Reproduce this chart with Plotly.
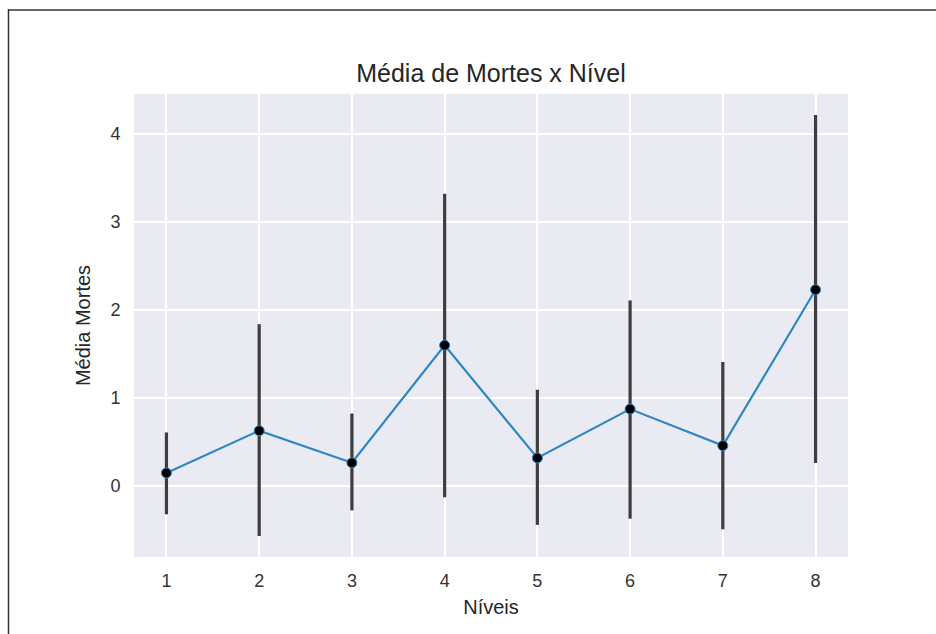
import plotly.graph_objects as go

# Mean deaths per level with confidence interval bounds
niveis = [1, 2, 3, 4, 5, 6, 7, 8]
media_mortes = [0.15, 0.63, 0.265, 1.60, 0.32, 0.875, 0.46, 2.23]
ic_superior = [0.61, 1.84, 0.825, 3.32, 1.095, 2.11, 1.41, 4.215]
ic_inferior = [-0.32, -0.566, -0.275, -0.125, -0.44, -0.37, -0.49, 0.264]
y_ticks = [0, 1, 2, 3, 4]

W, H = 936, 634
L, R, T, B = 134, 88, 94, 77
pw, ph = W - L - R, H - T - B

fig = go.Figure()

# vertical interval bars
for x, lo, hi in zip(niveis, ic_inferior, ic_superior):
    fig.add_trace(go.Scatter(
        x=[x, x], y=[lo, hi], mode="lines",
        line=dict(color="#3d3d3d", width=3.2),
        hoverinfo="skip", showlegend=False,
    ))

# mean line with markers
fig.add_trace(go.Scatter(
    x=niveis, y=media_mortes, mode="lines+markers",
    line=dict(color="#2f86c4", width=2.2),
    marker=dict(color="black", size=10, line=dict(color="#2f86c4", width=1)),
    showlegend=False,
))

text_color = "#262626"
font_family = "Liberation Sans, Arial, sans-serif"

# thin frame lines along the top and left edge of the page
def px_x(px):
    return (px - L) / pw

def px_y(py):
    return (H - B - py) / ph

shapes = [
    dict(type="line", xref="paper", yref="paper",
         x0=px_x(8), x1=px_x(W + 2), y0=px_y(10), y1=px_y(10),
         line=dict(color="#666666", width=2)),
    dict(type="line", xref="paper", yref="paper",
         x0=px_x(8.5), x1=px_x(8.5), y0=px_y(9), y1=px_y(H + 2),
         line=dict(color="#333333", width=1.5)),
]

fig.update_layout(
    width=W, height=H,
    margin=dict(l=L, r=R, t=T, b=B),
    paper_bgcolor="white",
    plot_bgcolor="#eaeaf2",
    font=dict(family=font_family, color=text_color, size=18),
    title=dict(
        text="Média de Mortes x Nível",
        x=0.5, xref="paper", xanchor="center",
        y=1, yref="paper", yanchor="bottom",
        pad=dict(b=12),
        font=dict(size=25, color=text_color, family=font_family),
    ),
    xaxis=dict(
        range=[0.65, 8.35],
        tickmode="array", tickvals=niveis, ticktext=[str(n) for n in niveis],
        showgrid=True, gridcolor="white", gridwidth=1.5,
        zeroline=False, showline=False,
        ticks="outside", ticklen=7, tickcolor="rgba(0,0,0,0)",
        tickfont=dict(size=18, color="#333333"),
        title=dict(text="Níveis", font=dict(size=20, color=text_color), standoff=10),
    ),
    yaxis=dict(
        range=[-0.805, 4.454],
        tickmode="array", tickvals=y_ticks, ticktext=[str(v) for v in y_ticks],
        showgrid=True, gridcolor="white", gridwidth=1.5,
        zeroline=False, showline=False,
        ticks="outside", ticklen=9, tickcolor="rgba(0,0,0,0)",
        tickfont=dict(size=18, color="#333333"),
        title=dict(text="Média Mortes", font=dict(size=20, color=text_color), standoff=14),
    ),
    shapes=shapes,
)

fig.write_html("out.html")
